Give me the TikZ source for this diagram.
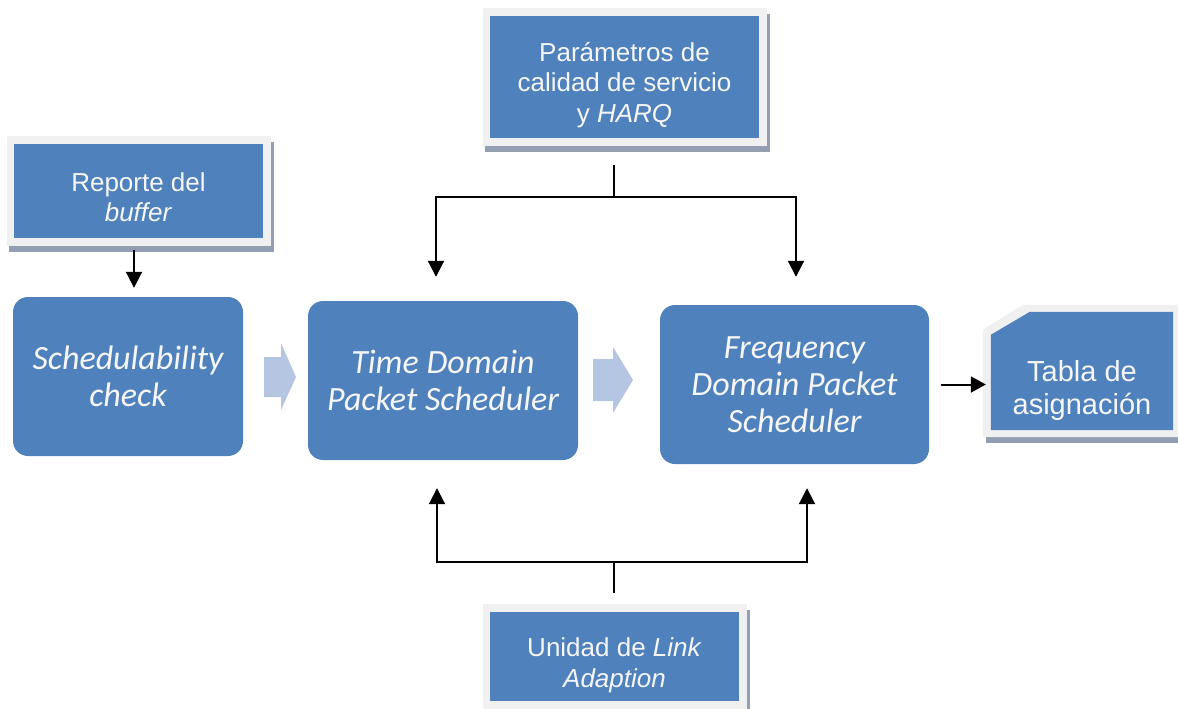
\documentclass[tikz,border=0pt]{standalone}
\usepackage{fontspec}
\setmainfont{Liberation Sans}
\newfontfamily\calibri{Carlito}
\usetikzlibrary{arrows.meta,calc,backgrounds}

\definecolor{boxblue}{HTML}{4F81BD}
\definecolor{framegray}{HTML}{F0F0F0}
\definecolor{shadegray}{HTML}{929FB2}
\definecolor{blockarrow}{HTML}{B4C6E2}
\definecolor{boxtext}{HTML}{F6F6F6}

\begin{document}
\begin{tikzpicture}[x=1pt,y=-1pt,
  process/.style={fill=boxblue, rounded corners=15pt, text=boxtext, inner sep=0pt,
    font=\calibri\itshape\fontsize{34}{37}\selectfont, align=center},
  datum/.style={fill=boxblue, inner sep=0pt},
  datumtext/.style={text=boxtext, inner sep=0pt,
    font=\fontsize{26}{30.5}\selectfont, align=center},
  tabletext/.style={text=boxtext, inner sep=0pt,
    font=\fontsize{29}{33}\selectfont, align=center},
  link/.style={line width=2pt, -{Triangle[length=16pt,width=16pt]}},
  stem/.style={line width=2pt},
  bigarrow/.style={fill=blockarrow},
  frame/.style={fill=framegray},
  shade/.style={fill=shadegray}]
\useasboundingbox (0,0) rectangle (1178,709);
\clip (0,0) rectangle (1178,709);

% processing stages
\node[process, minimum width=230pt, minimum height=159pt] (sched) at (128,376.5)
  {Schedulability\\check};
\node[process, minimum width=270pt, minimum height=159pt] (tsched) at (443,380.5)
  {Time Domain\\Packet Scheduler};
\node[process, minimum width=269pt, minimum height=159pt] (fsched) at (794.5,384.5)
  {Frequency\\Domain Packet\\Scheduler};

% inputs and output
\node[datum, minimum width=249pt, minimum height=94pt] (rep) at (138.5,191) {};
\node[datumtext] (reptxt) at ($(rep.center)+(0,6)$) {Reporte del\\\textit{buffer}};
\node[datum, minimum width=269pt, minimum height=122pt] (par) at (624.5,77) {};
\node[datumtext] (partxt) at ($(par.center)+(0,8)$)
  {Parámetros de\\calidad de servicio\\y \textit{HARQ}};
\node[datum, minimum width=249pt, minimum height=89pt] (uni) at (614.5,656.5) {};
\node[datumtext] (unitxt) at ($(uni.center)+(0,9)$) {Unidad de \textit{Link}\\\textit{Adaption}};
\node[minimum width=182pt, minimum height=118pt, inner sep=0pt] (tab) at (1082,371) {};
\node[tabletext] (tabtxt) at ($(tab.center)+(0,19)$) {Tabla de\\asignación};

% frames and shadows behind the data boxes
\begin{scope}[on background layer]
  \foreach \n in {rep, par, uni} {
    \fill[shade] ($(\n.north west)+(-5,-2)$) rectangle ($(\n.south east)+(11,14)$);
    \fill[frame] ($(\n.north west)+(-7,-8)$) rectangle ($(\n.south east)+(8,8)$);
  }
  \fill[shade] ($(tab.south west)+(-5,6)$) rectangle ($(tab.south east)+(12,13)$);
  \fill[frame] ($(tab.south west)+(-8,7)$) -- ($(tab.north west)+(-8,18)$)
    -- ($(tab.north west)+(32,-7)$) -- ($(tab.north east)+(12,-7)$)
    -- ($(tab.south east)+(12,7)$) -- cycle;
  \fill[boxblue] (tab.south west) -- ($(tab.north west)+(0,23)$)
    -- ($(tab.north west)+(39,0)$) -- (tab.north east) -- (tab.south east) -- cycle;
\end{scope}

% block arrows between stages
\fill[bigarrow] (264,357) -- (281,357) -- (281,343) -- (296,377) -- (281,410)
  -- (281,397) -- (264,397) -- cycle;
\fill[bigarrow] (593,359) -- (613,359) -- (613,347) -- (633,380) -- (613,413)
  -- (613,401) -- (593,401) -- cycle;

% connectors
\draw[link] ($(rep.south)+(-4.5,12)$) -- ($(sched.north)+(6,-9)$);

\coordinate (topj) at (614,197);
\draw[stem] ($(par.south)+(-10.5,27)$) -- (topj);
\draw[link] (topj) -| ($(tsched.north)+(-7,-24)$);
\draw[link] (topj) -| ($(fsched.north)+(1.5,-28)$);

\coordinate (botj) at (614,562);
\draw[stem] ($(uni.north)+(-0.5,-19)$) -- (botj);
\draw[link] (botj) -| ($(tsched.south)+(-6,28)$);
\draw[link] (botj) -| ($(fsched.south)+(12.5,24)$);

\draw[line width=2pt, -{Triangle[length=15pt,width=16pt]}, shorten <=12pt, shorten >=5pt]
  (fsched.east) -- (fsched.east -| tab.west);
\end{tikzpicture}
\end{document}
